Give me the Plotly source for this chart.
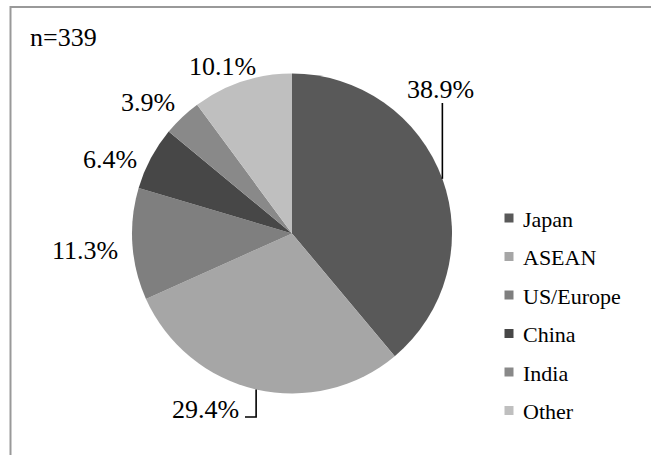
import numpy as np
import plotly.graph_objects as go

# Survey shares by region (n=339)
regions = ["Japan", "ASEAN", "US/Europe", "China", "India", "Other"]
shares = [38.9, 29.4, 11.3, 6.4, 3.9, 10.1]
sample_note = "n=339"

colors = ["#595959", "#a6a6a6", "#7f7f7f", "#474747", "#898989", "#bfbfbf"]

W, H = 651, 455
FONT = "Liberation Serif"


def px(x):
    return x / W


def py(y):
    return 1 - y / H


# pie geometry in pixels
cx, cy, r = 292, 233.5, 160

fig = go.Figure(
    go.Pie(
        labels=regions,
        values=shares,
        sort=False,
        direction="clockwise",
        rotation=0,
        marker=dict(colors=colors, line=dict(width=0)),
        textinfo="none",
        hoverinfo="label+percent",
        domain=dict(x=[px(cx - r), px(cx + r)], y=[py(cy + r), py(cy - r)]),
        showlegend=False,
    )
)

# mid-angle of each slice (clockwise from 12 o'clock)
vals = np.array(shares, dtype=float)
cum = np.cumsum(vals) / vals.sum() * 360.0
mid = np.radians(cum - vals / vals.sum() * 180.0)
edge_x = cx + r * np.sin(mid)
edge_y = cy - r * np.cos(mid)

# percentage label centres (pixels)
label_pos = [(440, 90), (205, 409), (85, 250), (110, 159), (148, 103), (222, 66)]

annotations = []
for v, (lx, ly) in zip(shares, label_pos):
    annotations.append(dict(
        x=px(lx), y=py(ly), xref="paper", yref="paper",
        text=f"{v:.1f}%", showarrow=False,
        xanchor="center", yanchor="middle",
        font=dict(family=FONT, size=26, color="black"),
    ))

annotations.append(dict(
    x=px(28), y=py(37), xref="paper", yref="paper",
    text=sample_note, showarrow=False, xanchor="left", yanchor="middle",
    font=dict(family=FONT, size=26, color="black"),
))

shapes = []
# leader lines for the two large slices
leaders = {0: [(None, 103)], 1: [(None, 417), (245, 417)]}
for i, pts in leaders.items():
    x0, y0 = edge_x[i], edge_y[i]
    path = f"M {px(x0)} {py(y0)}"
    lastx = x0
    for (xx, yy) in pts:
        xx = lastx if xx is None else xx
        path += f" L {px(xx)} {py(yy)}"
        lastx = xx
    shapes.append(dict(type="path", path=path, xref="paper", yref="paper",
                       line=dict(color="black", width=1.6)))

# legend: square swatches + names
for i, (name, c) in enumerate(zip(regions, colors)):
    yc = 218 + 38.5 * i
    shapes.append(dict(type="rect", xref="paper", yref="paper",
                       x0=px(504.5), x1=px(513.5), y0=py(yc + 4.5), y1=py(yc - 4.5),
                       fillcolor=c, line=dict(width=0)))
    annotations.append(dict(
        x=px(521), y=py(yc + 1), xref="paper", yref="paper",
        text=name, showarrow=False, xanchor="left", yanchor="middle",
        font=dict(family=FONT, size=22, color="black"),
    ))

# chart frame
shapes.append(dict(type="rect", xref="paper", yref="paper",
                   x0=px(10.5), x1=1.05, y0=-0.05, y1=py(7),
                   line=dict(color="#999999", width=2), fillcolor="rgba(0,0,0,0)",
                   layer="below"))

fig.update_layout(
    width=W, height=H,
    margin=dict(l=0, r=0, t=0, b=0),
    paper_bgcolor="white",
    plot_bgcolor="white",
    showlegend=False,
    annotations=annotations,
    shapes=shapes,
)

fig.write_html("out.html")
